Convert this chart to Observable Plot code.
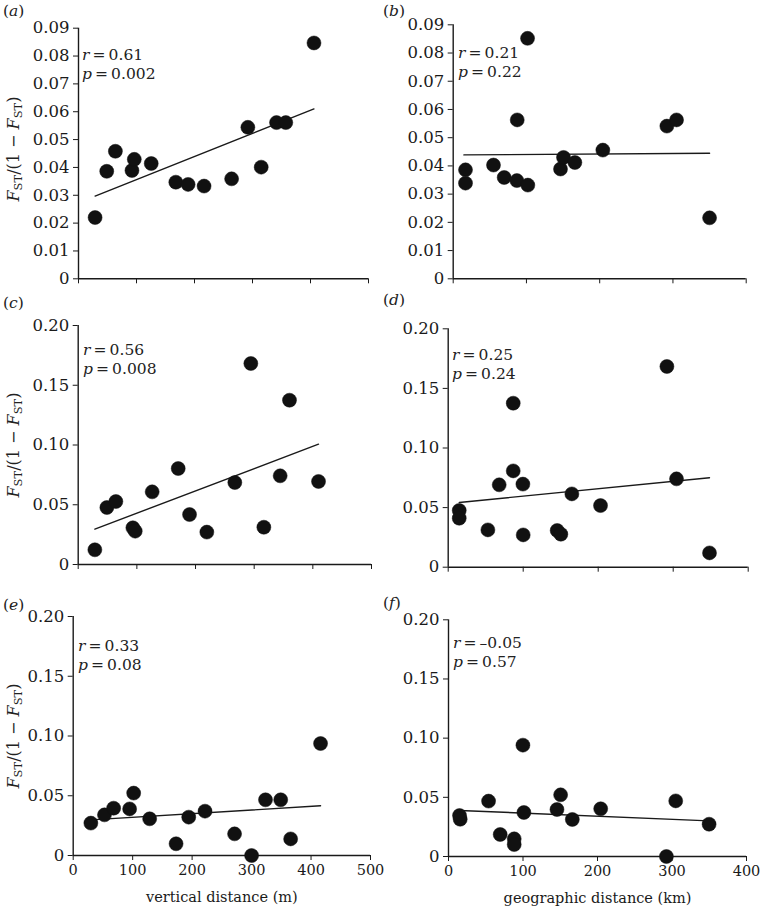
<!DOCTYPE html>
<html><head><meta charset="utf-8">
<script src="https://cdn.jsdelivr.net/npm/d3@7"></script>
<script src="https://cdn.jsdelivr.net/npm/@observablehq/plot@0.6"></script>
<style>
body{margin:0;background:#fff;}
#chart{position:relative;width:760px;height:908px;font-family:"DejaVu Serif","Liberation Serif","Times New Roman",serif;color:#222;overflow:hidden;}
.panel{position:absolute;}
.lab{position:absolute;font-size:15.5px;white-space:nowrap;line-height:19px;}
.ylab{position:absolute;transform:translate(-50%,-50%) rotate(-90deg);font-size:16px;white-space:nowrap;line-height:1;}
sub{font-size:0.72em;vertical-align:-0.3em;line-height:0;}
</style></head>
<body><div id="chart"></div>
<script>
// ---- data ----
const xA = [28.6, 48.7, 63.6, 92.2, 96.2, 125.4, 167.8, 189, 216.5, 264, 292, 315, 341.4, 357.4, 406];
const yA = [0.022, 0.0386, 0.0458, 0.0389, 0.0429, 0.0414, 0.0347, 0.0339, 0.0333, 0.0359, 0.0544, 0.0401, 0.0561, 0.0561, 0.0847];
const lineAx = [28.6, 406];
const lineAy = [0.0297, 0.061];

const xB = [16.8, 16.8, 55, 69.6, 87.4, 86.9, 101.5, 101.9, 146.5, 150.6, 166.1, 204.3, 291.7, 304.9, 350];
const yB = [0.0386, 0.0339, 0.0403, 0.0359, 0.0563, 0.0348, 0.0852, 0.0332, 0.0389, 0.043, 0.0412, 0.0456, 0.0541, 0.0563, 0.0216];
const lineBx = [14.6, 350];
const lineBy = [0.0439, 0.0445];

const xC = [28.4, 48.9, 64.2, 93.2, 97.2, 126.1, 170.5, 189.8, 219.3, 267, 294.3, 316.5, 344.3, 360.2, 409.7];
const yC = [0.0123, 0.0477, 0.0527, 0.0307, 0.0279, 0.0608, 0.0803, 0.0418, 0.0271, 0.0686, 0.1682, 0.0312, 0.0742, 0.1375, 0.0695];
const lineCx = [28.4, 409.7];
const lineCy = [0.0296, 0.1007];

const xD = [14.7, 14.7, 52.9, 68, 86.7, 86.7, 99.6, 100, 145.3, 150.2, 164.9, 203.1, 291.6, 304.4, 348.4];
const yD = [0.0476, 0.0411, 0.0313, 0.0691, 0.1376, 0.0808, 0.0697, 0.0271, 0.0308, 0.0277, 0.0615, 0.0517, 0.1684, 0.0741, 0.012];
const lineDx = [14.7, 348.4];
const lineDy = [0.0543, 0.075];

const xE = [29.7, 52.6, 68, 94.9, 101.7, 128.6, 173, 194.3, 221.7, 271.4, 300, 323.4, 349, 365.7, 416];
const yE = [0.0271, 0.034, 0.0396, 0.039, 0.0522, 0.0307, 0.0098, 0.0321, 0.0371, 0.0181, 0, 0.0466, 0.0466, 0.0139, 0.0937];
const lineEx = [29.7, 416];
const lineEy = [0.0298, 0.0416];

const xF = [14.8, 15.7, 53.8, 69.4, 88.2, 88.2, 99.9, 101.2, 145.6, 150.5, 166.2, 204.3, 292.5, 305, 349.8];
const yF = [0.0346, 0.0315, 0.0468, 0.0186, 0.0149, 0.0101, 0.0941, 0.0372, 0.0397, 0.0521, 0.0313, 0.0403, 0, 0.047, 0.0273];
const lineFx = [14.8, 349.8];
const lineFy = [0.0389, 0.0301];

const panelLetters = ["a", "b", "c", "d", "e", "f"];
const rValues = ["0.61", "0.21", "0.56", "0.25", "0.33", "\u20130.05"];
const pValues = ["0.002", "0.22", "0.008", "0.24", "0.08", "0.57"];

const yTicksSmall = [0, 0.01, 0.02, 0.03, 0.04, 0.05, 0.06, 0.07, 0.08, 0.09];
const yTicksLarge = [0, 0.05, 0.10, 0.15, 0.20];
const xTicksVertical = [0, 100, 200, 300, 400, 500];
const xTicksGeographic = [0, 100, 200, 300, 400];
const xLabelVertical = "vertical distance (m)";
const xLabelGeographic = "geographic distance (km)";

// ---- layout ----
const chart = document.getElementById("chart");
const FONT = "'DejaVu Serif','Liberation Serif','Times New Roman',serif";
const INK = "#1a1a1a";

const panels = [
  {x: xA, y: yA, lx: lineAx, ly: lineAy, xmax: 500, ymax: 0.09, xt: xTicksVertical, yt: yTicksSmall, fmt: d => d === 0 ? "0" : d.toFixed(2),
   svgL: 0, svgT: 0, W: 380, H: 290, left: 78, right: 368, top: 27.7, bottom: 278.3, bottomRow: false, xlabel: null},
  {x: xB, y: yB, lx: lineBx, ly: lineBy, xmax: 400, ymax: 0.09, xt: xTicksGeographic, yt: yTicksSmall, fmt: d => d === 0 ? "0" : d.toFixed(2),
   svgL: 380, svgT: 0, W: 380, H: 290, left: 452.7, right: 745.7, top: 24.3, bottom: 278.3, bottomRow: false, xlabel: null},
  {x: xC, y: yC, lx: lineCx, ly: lineCy, xmax: 500, ymax: 0.20, xt: xTicksVertical, yt: yTicksLarge, fmt: d => d === 0 ? "0" : d.toFixed(2),
   svgL: 0, svgT: 290, W: 380, H: 290, left: 77.7, right: 371, top: 325, bottom: 564, bottomRow: false, xlabel: null},
  {x: xD, y: yD, lx: lineDx, ly: lineDy, xmax: 400, ymax: 0.20, xt: xTicksGeographic, yt: yTicksLarge, fmt: d => d === 0 ? "0" : d.toFixed(2),
   svgL: 380, svgT: 290, W: 380, H: 290, left: 447.7, right: 747.7, top: 328.3, bottom: 566.7, bottomRow: false, xlabel: null},
  {x: xE, y: yE, lx: lineEx, ly: lineEy, xmax: 500, ymax: 0.20, xt: xTicksVertical, yt: yTicksLarge, fmt: d => d === 0 ? "0" : d.toFixed(2),
   svgL: 0, svgT: 580, W: 380, H: 328, left: 72.7, right: 370, top: 616, bottom: 855, bottomRow: true, xlabel: xLabelVertical},
  {x: xF, y: yF, lx: lineFx, ly: lineFy, xmax: 400, ymax: 0.20, xt: xTicksGeographic, yt: yTicksLarge, fmt: d => d === 0 ? "0" : d.toFixed(2),
   svgL: 380, svgT: 580, W: 380, H: 328, left: 448, right: 746, top: 619.3, bottom: 856, bottomRow: true, xlabel: xLabelGeographic}
];

const letterPos = [[3, 2], [383, 2], [3, 294], [383, 291], [3, 596], [383, 594]];
const statPos = [[82, 45.5], [458, 43.5], [83, 341], [452, 345.5], [78, 637], [453, 633.5]];
const ylabPos = [[14, 149], [14, 445], [14, 736]];

panels.forEach((p, i) => {
  const pts = p.x.map((v, k) => ({x: v, y: p.y[k]}));
  const ln = p.lx.map((v, k) => ({x: v, y: p.ly[k]}));
  const plot = Plot.plot({
    width: p.W, height: p.H,
    marginLeft: p.left - p.svgL,
    marginRight: p.svgL + p.W - p.right,
    marginTop: p.top - p.svgT,
    marginBottom: p.svgT + p.H - p.bottom,
    style: {fontFamily: FONT, fontSize: "16.5px", color: INK, background: "transparent", overflow: "visible"},
    x: {domain: [0, p.xmax]},
    y: {domain: [0, p.ymax]},
    marks: [
      Plot.axisY({ticks: p.yt, tickFormat: p.fmt, tickSize: 5, tickPadding: 4, label: null}),
      Plot.axisX({ticks: p.xt, tickFormat: p.bottomRow ? (d => String(d)) : (() => ""), tickSize: 5, tickPadding: 4,
                  fontSize: 14.5, label: p.xlabel, labelAnchor: "center", labelArrow: "none", labelOffset: 46}),
      Plot.ruleX([0], {stroke: INK, strokeWidth: 1.4}),
      Plot.ruleY([0], {stroke: INK, strokeWidth: 1.4}),
      Plot.line(ln, {x: "x", y: "y", stroke: INK, strokeWidth: 1.4}),
      Plot.dot(pts, {x: "x", y: "y", r: 7, fill: "#111", stroke: "#111", strokeWidth: 0.5})
    ]
  });
  plot.classList.add("panel");
  plot.style.left = p.svgL + "px";
  plot.style.top = p.svgT + "px";
  chart.appendChild(plot);

  const L = document.createElement("div");
  L.className = "lab";
  L.style.left = letterPos[i][0] + "px";
  L.style.top = letterPos[i][1] + "px";
  L.innerHTML = "(<i>" + panelLetters[i] + "</i>)";
  chart.appendChild(L);

  const S = document.createElement("div");
  S.className = "lab";
  S.style.left = statPos[i][0] + "px";
  S.style.top = statPos[i][1] + "px";
  S.innerHTML = "<i>r</i>\u2009=\u2009" + rValues[i] + "<br><i>p</i>\u2009=\u2009" + pValues[i];
  chart.appendChild(S);
});

ylabPos.forEach(([x, y]) => {
  const Y = document.createElement("div");
  Y.className = "ylab";
  Y.style.left = x + "px";
  Y.style.top = y + "px";
  Y.innerHTML = "<i>F</i><sub>ST</sub>/(1 \u2212 <i>F</i><sub>ST</sub>)";
  chart.appendChild(Y);
});
</script>
</body></html>
